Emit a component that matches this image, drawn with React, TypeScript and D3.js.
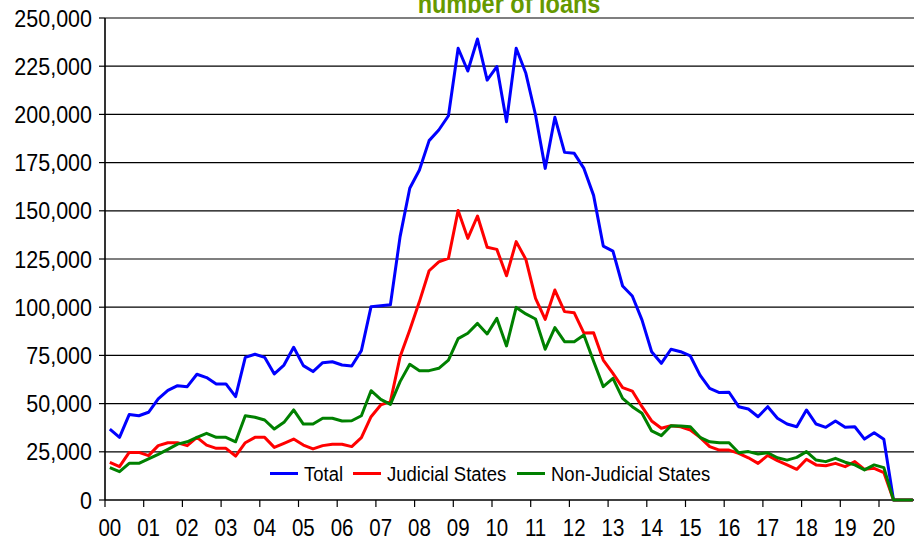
import React from "react";
import * as d3 from "d3";

const yearLabels = ["00","01","02","03","04","05","06","07","08","09","10","11","12","13","14","15","16","17","18","19","20"];
const seriesNames = ["Total", "Judicial States", "Non-Judicial States"];
const seriesColors = ["#0000FF", "#FF0000", "#008000"];

const total = [
  36800, 32500, 44300, 43700, 45500, 52400, 56900, 59300, 58800, 65200, 63500, 60200,
  60200, 53600, 74000, 75600, 74000, 65400, 70000, 79200, 69700, 66600, 71200, 71700,
  70000, 69500, 77500, 100300, 100800, 101300, 136600, 161700, 171200, 186400, 191900, 199300,
  234300, 222500, 239100, 217800, 224800, 196200, 234300, 221300, 199700, 172000, 198500, 180300,
  179800, 172000, 158000, 131700, 129100, 111000, 105800, 93400, 76900, 70900, 78200, 76900,
  74700, 64800, 57900, 55700, 55900, 48400, 47200, 43200, 48400, 42400, 39400, 38000,
  46700, 39400, 37700, 41000, 37700, 38000, 31600, 34900, 31500, 0, 0, 0
];
const judicial = [
  19500, 17300, 24700, 24700, 23000, 28200, 29700, 29700, 28200, 32500, 28500, 26800,
  26800, 22800, 29700, 32500, 32500, 27300, 29400, 31600, 28500, 26500, 28200, 28900,
  28900, 27700, 32300, 43200, 49300, 51000, 74300, 88200, 102900, 118900, 123500, 125400,
  150200, 135700, 147300, 131100, 130000, 116300, 134000, 124800, 104600, 93700, 108900, 97700,
  97100, 86600, 86800, 72600, 65700, 58300, 56500, 48400, 41000, 37200, 38500, 38000,
  36300, 32500, 27700, 25900, 25900, 24200, 21900, 19000, 23100, 20400, 18200, 15900,
  21100, 18200, 17800, 19000, 17300, 19900, 15900, 16400, 14200, 0, 0, 0
];
const nonJudicial = [
  16800, 14700, 19000, 19000, 21300, 23700, 26300, 29000, 30200, 32500, 34600, 32500,
  32500, 30200, 43700, 42900, 41500, 36800, 40300, 46700, 39400, 39400, 42400, 42400,
  41000, 41100, 43700, 56700, 52200, 49600, 61400, 70400, 67100, 67100, 68300, 72600,
  83700, 86500, 91600, 86100, 94200, 79900, 99900, 96500, 93900, 78200, 89400, 82100,
  82100, 85600, 72000, 58800, 63100, 52700, 48400, 45000, 35800, 33400, 38500, 38400,
  38000, 32500, 30200, 29700, 29700, 24500, 25100, 23900, 24500, 21900, 20700, 22100,
  25100, 20700, 19900, 21600, 19600, 18200, 15600, 18200, 16800, 0, 0, 0
];
const yTicks = [0, 25000, 50000, 75000, 100000, 125000, 150000, 175000, 200000, 225000, 250000];
const title = "number of loans";

const W = 914, H = 540;
const left = 105, top = 18, bottom = 500;
const nCat = yearLabels.length * 4;
const catW = 9.675;

export default function App() {
  const x = d3.scaleLinear().domain([0, nCat]).range([left, left + nCat * catW]);
  const y = d3.scaleLinear().domain([0, 250000]).range([bottom, top]);
  const line = d3.line<number>().x((_, i) => x(i + 0.5)).y(d => y(d));
  const allSeries = [total, judicial, nonJudicial];
  const fmt = d3.format(",");
  const font = "'Liberation Sans', Arial, sans-serif";

  const legendY = 473.5;
  const legendItems = [
    { x0: 270, tx: 304 },
    { x0: 353, tx: 387 },
    { x0: 517, tx: 551 },
  ];

  return (
    <svg width={W} height={H} style={{ position: "absolute", left: 0, top: 0, background: "#fff" }} fontFamily={font}>
      <rect x={0} y={0} width={W} height={H} fill="#fff" />
      <g transform="translate(509,12.5) scale(1,1.15)">
        <text x={0} y={0} textAnchor="middle" fontWeight="bold" fontSize={23.5} fill="#669900">{title}</text>
      </g>
      {yTicks.map(t => (
        <g key={t}>
          {t > 0 && <line x1={left} x2={W} y1={y(t)} y2={y(t)} stroke="#000" strokeWidth={1.2} />}
          <line x1={left - 6} x2={left} y1={y(t)} y2={y(t)} stroke="#000" strokeWidth={1.2} />
          <g transform={`translate(92,${y(t)}) scale(1,1.12)`}>
            <text x={0} y={0} dy="0.36em" textAnchor="end" fontSize={21.5} fill="#000">{fmt(t)}</text>
          </g>
        </g>
      ))}
      <line x1={left} x2={left} y1={top} y2={bottom} stroke="#000" strokeWidth={1.6} />
      <line x1={left} x2={W} y1={bottom} y2={bottom} stroke="#000" strokeWidth={1.6} />
      {d3.range(0, nCat + 1, 4).map(k => (
        <line key={k} x1={x(k)} x2={x(k)} y1={bottom} y2={bottom + 7} stroke="#000" strokeWidth={1.2} />
      ))}
      {yearLabels.map((lab, i) => (
        <g key={lab} transform={`translate(${x(i * 4 + 0.5)},535.5) scale(1,1.15)`}>
          <text x={0} y={0} textAnchor="middle" fontSize={20.5} fill="#000">{lab}</text>
        </g>
      ))}
      {allSeries.map((s, k) => (
        <path key={k} d={line(s) || ""} fill="none" stroke={seriesColors[k]} strokeWidth={3} strokeLinejoin="round" />
      ))}
      {legendItems.map((it, k) => (
        <g key={k}>
          <line x1={it.x0} x2={it.x0 + 28} y1={legendY} y2={legendY} stroke={seriesColors[k]} strokeWidth={3} />
          <g transform={`translate(${it.tx},${legendY}) scale(1,1.1)`}>
            <text x={0} y={0} dy="0.36em" fontSize={18.5} fill="#000">{seriesNames[k]}</text>
          </g>
        </g>
      ))}
    </svg>
  );
}
